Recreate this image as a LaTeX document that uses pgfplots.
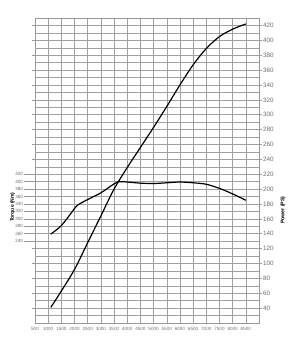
\documentclass[border=0pt]{standalone}
\usepackage{fontspec}
\setmainfont{Liberation Sans}
\usepackage{pgfplots}
\pgfplotsset{compat=1.18}
\begin{document}
\begin{tikzpicture}
\path[use as bounding box] (-35pt,-37pt) rectangle (269pt,323pt);
\pgfplotsset{
  every axis/.append style={scale only axis, width=224pt, height=305pt,
    xmin=500, xmax=9000,
    /pgf/number format/assume math mode=true,
    /pgf/number format/1000 sep={}},
}
% power axis with grid
\begin{axis}[
  name=pw,
  ymin=20, ymax=430,
  axis line style={draw=gray!80, line width=0.5pt},
  xtick={500,1000,...,8500},
  xtick style={draw=none},
  xticklabel style={font=\fontsize{4.6}{5}\selectfont, text=gray!90!black, inner sep=0.6pt},
  ytick={40,60,...,420},
  minor ytick={30,50,...,410},
  yticklabel pos=right,
  ytick style={draw=gray!80, line width=0.5pt},
  tick align=outside,
  major tick length=3pt,
  minor tick length=0pt,
  yticklabel style={font=\fontsize{6.3}{6.5}\selectfont, text=gray!85!black, inner sep=1pt},
  xmajorgrids, ymajorgrids, yminorgrids,
  major grid style={draw=gray!75, line width=0.5pt},
  minor grid style={draw=gray!75, line width=0.5pt},
  ylabel={Power (PS)},
  ylabel style={at={(axis description cs:1.107,0.37)}, anchor=center,
    font=\bfseries\fontsize{5.2}{5.5}\selectfont},
]
\addplot[black, line width=1.2pt, smooth] coordinates {
(1100,41) (1500,63) (2000,92) (2500,128) (3000,164) (3500,200) (4000,229)
(4500,256) (5000,283) (5500,311) (6000,340) (6500,367) (7000,389)
(7500,405) (8000,415) (8500,422)
};
\end{axis}
% torque axis
\begin{axis}[
  ymin=20, ymax=840,
  axis x line=none,
  axis y line*=left,
  axis line style={draw=none},
  ytick={240,260,...,420},
  ytick style={draw=gray!80, line width=0.5pt},
  tick align=outside,
  major tick length=11pt,
  yticklabel style={font=\fontsize{4.6}{5}\selectfont, text=gray!85!black, inner sep=0.8pt},
  ylabel={Torque (Nm)},
  ylabel style={at={(axis description cs:-0.1,0.38)}, anchor=center,
    font=\bfseries\fontsize{5}{5}\selectfont},
]
\addplot[black, line width=1.2pt, smooth] coordinates {
(1100,259) (1500,282) (1900,318) (2100,336) (2500,352) (3000,370) (3500,394)
(3700,400) (4000,399) (4500,396) (5000,395) (5500,397) (6000,399) (6500,397)
(7000,393) (7500,382) (8000,367) (8500,350)
};
\end{axis}
\end{tikzpicture}
\end{document}
